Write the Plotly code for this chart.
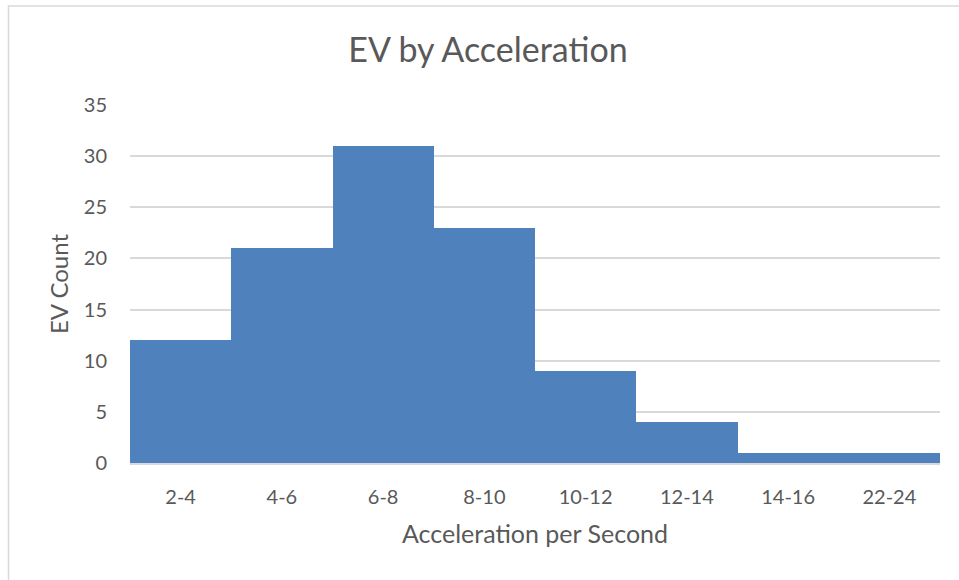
import plotly.graph_objects as go

categories = ["2-4", "4-6", "6-8", "8-10", "10-12", "12-14", "14-16", "22-24"]
counts = [12, 21, 31, 23, 9, 4, 1, 1]
y_ticks = [0, 5, 10, 15, 20, 25, 30, 35]

W, H = 959, 580
L, R, T, B = 130, 19, 105, 117
pw, ph = W - L - R, H - T - B

fig = go.Figure(go.Bar(
    x=categories, y=counts,
    marker=dict(color="#4F81BD", line=dict(width=0)),
))

font = "Lato, Open Sans, sans-serif"
fig.update_layout(
    width=W, height=H,
    margin=dict(l=L, r=R, t=T, b=B, autoexpand=False),
    paper_bgcolor="white", plot_bgcolor="white",
    bargap=0,
    showlegend=False,
    font=dict(family=font, color="#595959", size=16),
    title=dict(text="EV by Acceleration", xref="container", x=488 / W, xanchor="center",
               y=1 - 50 / H, yanchor="middle",
               font=dict(size=34, color="#595959", family=font)),
    xaxis=dict(
        type="category", automargin=False,
        showgrid=False, showline=True, linecolor="#D9D9D9", linewidth=2,
        ticks="outside", ticklen=15, tickcolor="rgba(0,0,0,0)",
        tickfont=dict(size=20),
        title=dict(text="Acceleration per Second", font=dict(size=25), standoff=18),
    ),
    yaxis=dict(
        automargin=False,
        range=[0, 35], tickvals=y_ticks, showgrid=True, gridcolor="#D9D9D9", gridwidth=1.5,
        zeroline=False, showline=False,
        ticks="outside", ticklen=18, tickcolor="rgba(0,0,0,0)",
        tickfont=dict(size=20),
        title=dict(text="EV Count", font=dict(size=24), standoff=8),
    ),
)

# chart border (light gray) at left and top edges
x0 = (8.5 - L) / pw
y0 = (H - B - 6) / ph
fig.add_shape(type="rect", xref="paper", yref="paper",
              x0=x0, x1=(W + 20 - L) / pw, y0=-(B + 20) / ph, y1=y0,
              line=dict(color="#D9D9D9", width=1.5), layer="below")

fig.write_html("out.html", config={"displayModeBar": False},
               post_script="document.body.style.margin='0';")
